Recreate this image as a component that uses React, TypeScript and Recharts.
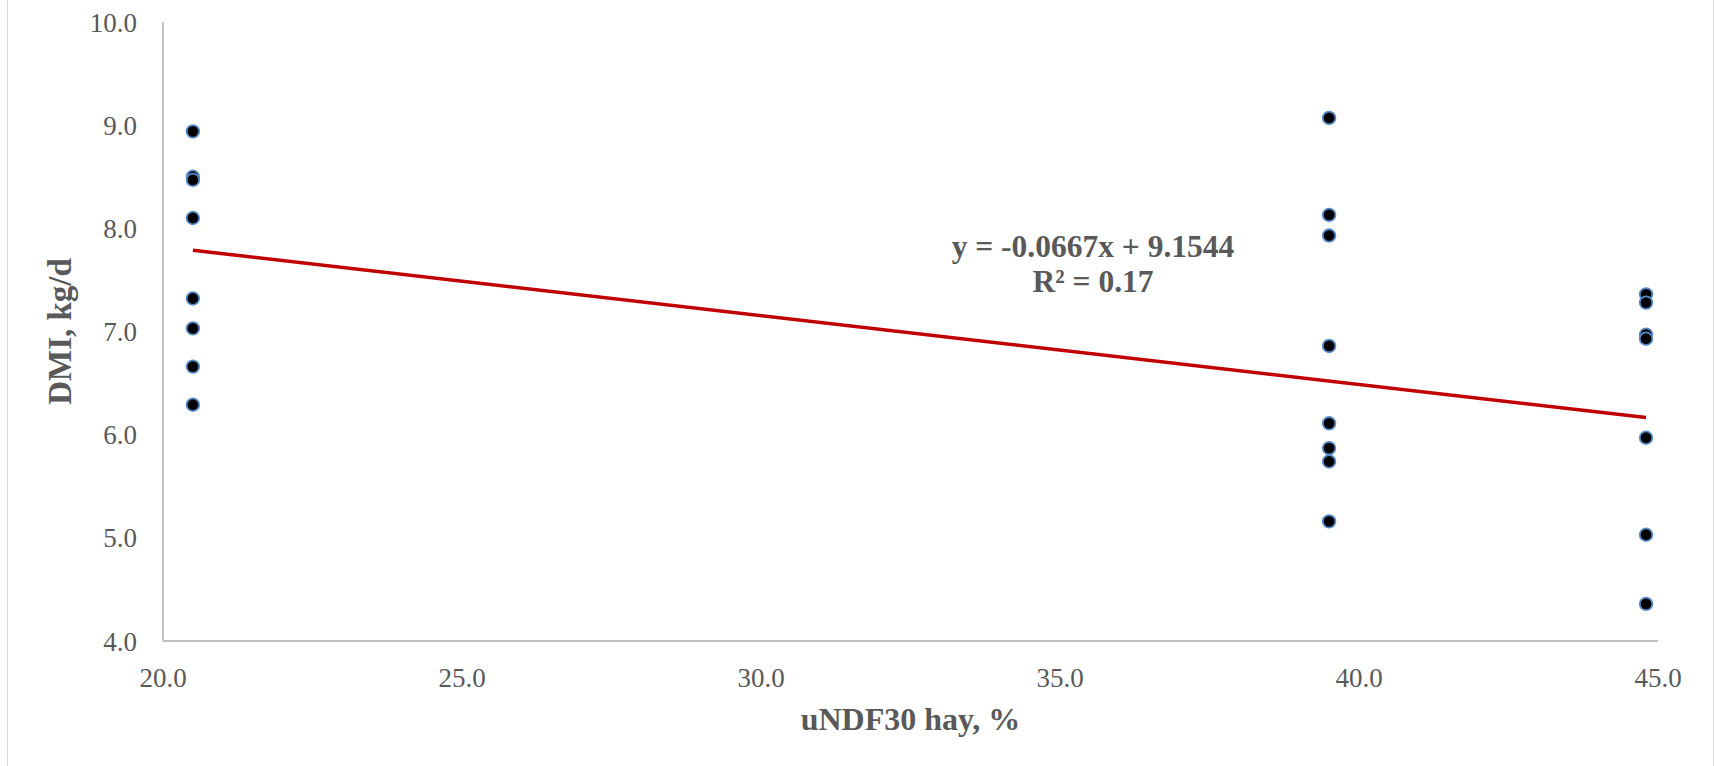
import React from 'react';
import { ScatterChart, Scatter, XAxis, YAxis, Customized } from 'recharts';

// hay uNDF30 levels (x) and DMI observations at each level
const hayLevels = [20.5, 39.5, 44.8];
const dmiLow = [8.94, 8.5, 8.47, 8.1, 7.32, 7.03, 6.66, 6.29];
const dmiMid = [9.07, 8.13, 7.93, 6.86, 6.11, 5.87, 5.74, 5.16];
const dmiHigh = [7.36, 7.28, 6.97, 6.93, 5.97, 5.03, 4.36];

// trend line end points (y = -0.0667x + 9.1544)
const trendX = [20.5, 44.8];
const trendY = [7.787, 6.166];

const xTicks = [20, 25, 30, 35, 40, 45];
const yTicks = [4, 5, 6, 7, 8, 9, 10];

const equationText = 'y = -0.0667x + 9.1544';
const r2Text = 'R² = 0.17';

const FONT = '"Liberation Serif", "Times New Roman", serif';
const TEXT_COLOR = '#595959';
const AXIS_COLOR = '#bfbfbf';

const points = [dmiLow, dmiMid, dmiHigh].flatMap((ys, i) =>
  ys.map((y) => ({ x: hayLevels[i], y }))
);
const trend = trendX.map((x, i) => ({ x, y: trendY[i] }));

const Dot = (props: any) => {
  const { cx, cy } = props;
  if (cx == null || cy == null) return <g />;
  return <circle cx={cx} cy={cy} r={6.3} fill="#000" stroke="#5589c8" strokeWidth={1.8} />;
};

const Equation = () => (
  <g fontFamily={FONT} fontWeight="bold" fontSize={31.5} fill={TEXT_COLOR}>
    <text x={1093} y={257} textAnchor="middle">{equationText}</text>
    <text x={1093} y={292} textAnchor="middle">{r2Text}</text>
  </g>
);

export default function App() {
  return (
    <div style={{ position: 'absolute', left: 0, top: 0, width: 1714, height: 766, background: '#fff' }}>
      {/* chart area border, only the sides show in the crop */}
      <div
        style={{
          position: 'absolute', left: 7, top: 0, width: 1705, height: 766,
          borderLeft: '1px solid #d9d9d9', borderRight: '1px solid #d9d9d9',
        }}
      />
      <div style={{ position: 'absolute', left: 0, top: 0 }}>
        <ScatterChart
          width={1714}
          height={766}
          margin={{ top: 22, right: 56, bottom: 0, left: 0 }}
          style={{ fontFamily: FONT }}
        >
          <XAxis
            type="number"
            dataKey="x"
            domain={[20, 45]}
            ticks={xTicks}
            tickFormatter={(v: number) => v.toFixed(1)}
            height={125}
            tickLine={false}
            tickSize={0}
            tickMargin={27}
            axisLine={{ stroke: AXIS_COLOR, strokeWidth: 1.8 }}
            tick={{ fill: TEXT_COLOR, fontSize: 27, fontFamily: FONT }}
            allowDataOverflow
            label={{
              value: 'uNDF30 hay, %',
              position: 'insideBottom',
              offset: 36,
              fill: TEXT_COLOR,
              fontSize: 32,
              fontWeight: 'bold',
              fontFamily: FONT,
            }}
          />
          <YAxis
            type="number"
            dataKey="y"
            domain={[4, 10]}
            ticks={yTicks}
            tickFormatter={(v: number) => v.toFixed(1)}
            width={163}
            tickLine={false}
            tickSize={0}
            tickMargin={26}
            axisLine={{ stroke: AXIS_COLOR, strokeWidth: 1.8 }}
            tick={{ fill: TEXT_COLOR, fontSize: 27, fontFamily: FONT }}
            allowDataOverflow
            label={{
              value: 'DMI, kg/d',
              angle: -90,
              position: 'insideLeft',
              offset: 59,
              fill: TEXT_COLOR,
              fontSize: 33,
              fontWeight: 'bold',
              fontFamily: FONT,
              style: { textAnchor: 'middle' },
            }}
          />
          <Scatter
            data={trend}
            line={{ stroke: '#C00000', strokeWidth: 3.5 }}
            shape={() => <g />}
            isAnimationActive={false}
          />
          <Scatter
            data={points}
            shape={Dot}
            isAnimationActive={false}
          />
          <Customized component={Equation} />
        </ScatterChart>
      </div>
    </div>
  );
}
